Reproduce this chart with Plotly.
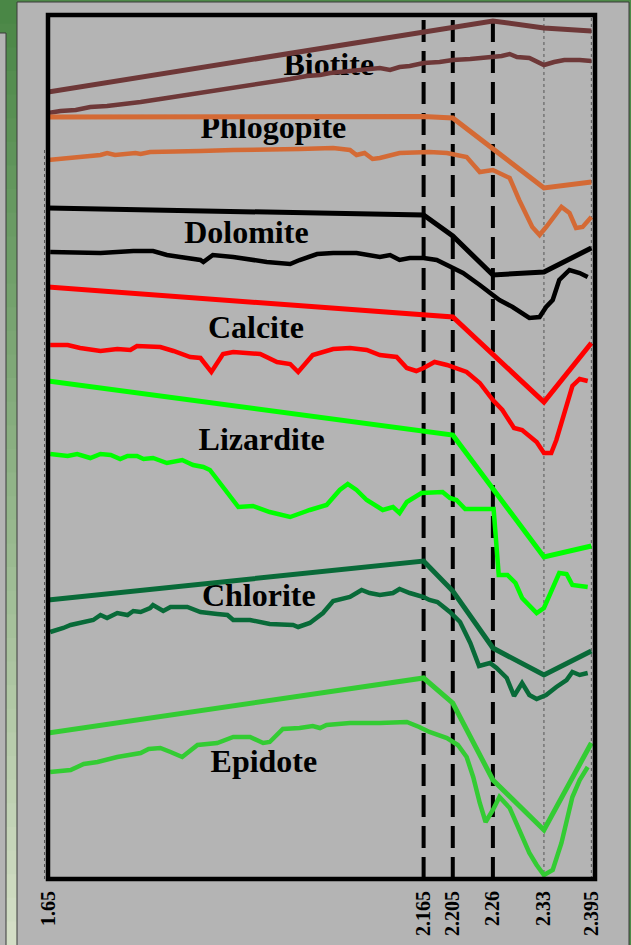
import plotly.graph_objects as go

# ---------------- data (wavelength in µm, offset reflectance in arbitrary units) ----------------
tick_vals = [1.65, 2.165, 2.205, 2.26, 2.33, 2.395]
tick_text = ["1.65", "2.165", "2.205", "2.26", "2.33", "2.395"]
dashed_lines = [2.165, 2.205, 2.26]
dotted_lines = [2.33, 2.395]

minerals = ["Biotite", "Phlogopite", "Dolomite", "Calcite", "Lizardite", "Chlorite", "Epidote"]
colors = ["#6e3838", "#d46a35", "#000000", "#ff0000", "#00ff00", "#086a38", "#33cc33"]
label_x = [2.035, 1.959, 1.922, 1.935, 1.943, 1.939, 1.946]
label_y = [812, 749, 644, 549, 437, 281, 115]

# library (continuum-like) spectra
biotite_lib_x = [1.65, 2.26, 2.33, 2.395]
biotite_lib_y = [787, 858, 851, 848]
phlogopite_lib_x = [1.65, 2.165, 2.205, 2.33, 2.395]
phlogopite_lib_y = [762, 762.5, 761, 691, 697]
dolomite_lib_x = [1.65, 2.165, 2.205, 2.26, 2.33, 2.395]
dolomite_lib_y = [671, 664, 643, 604, 607, 631]
calcite_lib_x = [1.65, 2.205, 2.33, 2.395]
calcite_lib_y = [592, 562, 477, 536]
lizardite_lib_x = [1.65, 2.205, 2.33, 2.395]
lizardite_lib_y = [498, 444, 322, 333]
chlorite_lib_x = [1.65, 2.165, 2.205, 2.26, 2.33, 2.395]
chlorite_lib_y = [279, 318, 288, 231, 204, 228]
epidote_lib_x = [1.65, 2.165, 2.205, 2.26, 2.33, 2.395]
epidote_lib_y = [146, 201, 176, 99, 49, 136]

# measured spectra
biotite_x = [1.650, 1.667, 1.688, 1.708, 1.731, 1.756, 1.777, 1.804, 1.822, 1.845, 1.868, 1.893,
             1.913, 1.938, 1.959, 1.982, 2.005, 2.023, 2.037, 2.050, 2.071, 2.095, 2.105, 2.119,
             2.132, 2.146, 2.165, 2.187, 2.205, 2.229, 2.260, 2.272, 2.283, 2.293, 2.310, 2.321,
             2.330, 2.344, 2.358, 2.379, 2.395]
biotite_y = [766, 768, 769, 772, 773, 775, 777, 780, 782, 784, 787, 790,
             792, 794, 797, 800, 803, 804, 806, 807, 809, 811, 811, 809,
             812, 813, 816, 817, 819, 820, 822, 823, 825, 822, 821, 817,
             814, 817, 819, 819, 818]

phlogopite_x = [1.650, 1.667, 1.694, 1.722, 1.731, 1.742, 1.770, 1.777, 1.790, 1.813, 1.859, 1.904,
                1.950, 1.995, 2.041, 2.064, 2.073, 2.084, 2.095, 2.105, 2.132, 2.173, 2.197, 2.224,
                2.242, 2.260, 2.283, 2.296, 2.314, 2.324, 2.333, 2.354, 2.365, 2.374, 2.383, 2.395]
phlogopite_y = [719, 720, 722, 724, 726, 724, 726, 725, 727, 727, 728, 729,
                729, 730, 731, 729, 724, 726, 720, 721, 726, 727, 726, 722,
                707, 709, 701, 679, 652, 644, 652, 672, 666, 651, 652, 662]

dolomite_x = [1.653, 1.677, 1.722, 1.767, 1.794, 1.813, 1.859, 1.863, 1.876, 1.904, 1.950, 1.982,
              1.995, 2.019, 2.041, 2.073, 2.105, 2.119, 2.132, 2.146, 2.165, 2.183, 2.201, 2.219,
              2.242, 2.260, 2.269, 2.287, 2.310, 2.324, 2.333, 2.342, 2.351, 2.365, 2.379, 2.390]
dolomite_y = [627, 627, 626, 628, 628, 624, 619, 617, 624, 622, 617, 615,
              619, 625, 626, 626, 622, 624, 619, 621, 621, 619, 612, 606,
              594, 584, 579, 572, 561, 562, 572, 579, 599, 609, 606, 602]

calcite_x = [1.653, 1.677, 1.694, 1.722, 1.745, 1.763, 1.772, 1.804, 1.822, 1.845, 1.859, 1.874,
             1.890, 1.904, 1.941, 1.964, 1.982, 1.993, 2.013, 2.041, 2.064, 2.087, 2.105, 2.128,
             2.142, 2.155, 2.165, 2.180, 2.197, 2.224, 2.242, 2.260, 2.273, 2.289, 2.300, 2.320,
             2.330, 2.340, 2.347, 2.361, 2.369, 2.379, 2.390]
calcite_y = [534, 534, 531, 528, 530, 529, 533, 532, 528, 522, 521, 507,
             525, 527, 525, 517, 515, 507, 524, 530, 531, 529, 524, 522,
             511, 508, 511, 517, 514, 507, 496, 479, 469, 451, 449, 437,
             426, 426, 439, 472, 493, 500, 498]

lizardite_x = [1.653, 1.677, 1.690, 1.708, 1.722, 1.736, 1.749, 1.759, 1.772, 1.781, 1.794, 1.813,
               1.834, 1.849, 1.863, 1.872, 1.911, 1.931, 1.954, 1.982, 2.009, 2.032, 2.050, 2.061,
               2.073, 2.087, 2.109, 2.123, 2.132, 2.142, 2.162, 2.177, 2.191, 2.201, 2.210, 2.222,
               2.261, 2.268, 2.280, 2.291, 2.300, 2.320, 2.330, 2.351, 2.361, 2.369, 2.390]
lizardite_y = [425, 423, 425, 421, 425, 424, 420, 423, 423, 420, 421, 416,
               419, 414, 412, 409, 372, 373, 367, 362, 369, 374, 389, 395,
               389, 379, 369, 372, 366, 377, 386, 387, 387, 381, 379, 370,
               370, 304, 304, 296, 281, 266, 271, 306, 305, 294, 292]

chlorite_x = [1.653, 1.663, 1.671, 1.681, 1.694, 1.712, 1.722, 1.731, 1.745, 1.759, 1.767, 1.777,
              1.790, 1.794, 1.808, 1.818, 1.841, 1.859, 1.882, 1.896, 1.904, 1.927, 1.954, 1.986,
              1.993, 2.009, 2.027, 2.041, 2.064, 2.080, 2.091, 2.105, 2.123, 2.132, 2.146, 2.165,
              2.173, 2.184, 2.201, 2.215, 2.229, 2.241, 2.256, 2.265, 2.279, 2.289, 2.300, 2.310,
              2.320, 2.333, 2.347, 2.361, 2.369, 2.379, 2.390]
chlorite_y = [247, 249, 251, 254, 256, 259, 264, 261, 266, 264, 268, 267,
              271, 274, 268, 272, 272, 267, 265, 264, 259, 259, 255, 254,
              252, 256, 266, 278, 282, 289, 286, 284, 286, 290, 286, 282,
              279, 277, 267, 257, 236, 213, 216, 211, 201, 183, 196, 184,
              180, 184, 192, 199, 207, 204, 206]

epidote_x = [1.653, 1.681, 1.699, 1.718, 1.745, 1.777, 1.788, 1.804, 1.818, 1.834, 1.855, 1.882,
             1.904, 1.927, 1.945, 1.954, 1.972, 1.995, 2.013, 2.023, 2.032, 2.064, 2.105, 2.142,
             2.159, 2.173, 2.197, 2.212, 2.224, 2.233, 2.242, 2.250, 2.260, 2.269, 2.283, 2.296,
             2.310, 2.320, 2.330, 2.342, 2.354, 2.369, 2.379, 2.390]
epidote_y = [107, 109, 115, 117, 122, 126, 130, 131, 127, 122, 134, 136,
             142, 142, 136, 137, 150, 151, 153, 151, 154, 156, 156, 157,
             152, 147, 141, 134, 122, 102, 76, 57, 69, 82, 71, 49,
             26, 14, 4, 9, 36, 82, 99, 112]

library = [(biotite_lib_x, biotite_lib_y), (phlogopite_lib_x, phlogopite_lib_y),
           (dolomite_lib_x, dolomite_lib_y), (calcite_lib_x, calcite_lib_y),
           (lizardite_lib_x, lizardite_lib_y), (chlorite_lib_x, chlorite_lib_y),
           (epidote_lib_x, epidote_lib_y)]
measured = [(biotite_x, biotite_y), (phlogopite_x, phlogopite_y), (dolomite_x, dolomite_y),
            (calcite_x, calcite_y), (lizardite_x, lizardite_y), (chlorite_x, chlorite_y),
            (epidote_x, epidote_y)]

# ---------------- figure ----------------
W, H = 631, 945
ML, MR, MT, MB = 48, 36, 15, 66
PW, PH = W - ML - MR, H - MT - MB


def px(xp):
    return (xp - ML) / PW


def py(yp):
    return (H - MB - yp) / PH


fig = go.Figure()

# labels first so that the spectra are drawn over them
fig.add_trace(go.Scatter(
    x=label_x, y=label_y, text=minerals, mode="text",
    textfont=dict(family="Liberation Serif", size=32, color="black", weight="bold"),
    textposition="middle center", hoverinfo="skip", cliponaxis=False, showlegend=False))

for (lx, ly), (mx, my), c, name in zip(library, measured, colors, minerals):
    fig.add_trace(go.Scatter(x=lx, y=ly, mode="lines", line=dict(color=c, width=5),
                             name=name + " (library)", showlegend=False, hoverinfo="skip"))
    fig.add_trace(go.Scatter(x=mx, y=my, mode="lines", line=dict(color=c, width=4.5),
                             name=name, showlegend=False, hoverinfo="skip"))

shapes = []
# outer decoration: green gradient strip on the left
n = 40
top_c = (74, 135, 70)
bot_c = (212, 222, 198)
for i in range(n):
    t = i / (n - 1)
    col = "rgb({},{},{})".format(*[round(a + (b - a) * t) for a, b in zip(top_c, bot_c)])
    y0 = i * H / n
    y1 = (i + 1) * H / n + 1
    shapes.append(dict(type="rect", xref="paper", yref="paper", layer="below",
                       x0=px(0), x1=px(17), y0=py(y1), y1=py(y0),
                       fillcolor=col, line=dict(width=0)))
# grey main panel
shapes.append(dict(type="rect", xref="paper", yref="paper", layer="below",
                   x0=px(17), x1=px(629), y0=py(H + 2), y1=py(2),
                   fillcolor="#b4b4b4", line=dict(color="#3a3a3a", width=1)))
# small grey panel at far left
shapes.append(dict(type="rect", xref="paper", yref="paper", layer="below",
                   x0=px(-3), x1=px(6), y0=py(H + 2), y1=py(33),
                   fillcolor="#b4b4b4", line=dict(color="#3a3a3a", width=1)))
# dotted y-axis line
shapes.append(dict(type="line", xref="paper", yref="paper", layer="below",
                   x0=px(44.5), x1=px(44.5), y0=py(879), y1=py(148),
                   line=dict(color="#555555", width=1, dash="dot")))

for xv in dotted_lines:
    shapes.append(dict(type="line", xref="x", yref="paper", layer="below",
                       x0=xv, x1=xv, y0=0, y1=1,
                       line=dict(color="#555555", width=1, dash="dot")))
for xv in dashed_lines:
    shapes.append(dict(type="line", xref="x", yref="paper", layer="below",
                       x0=xv, x1=xv, y0=0, y1=1,
                       line=dict(color="black", width=4, dash="22px,9px")))
# frame
shapes.append(dict(type="rect", xref="paper", yref="paper", layer="above",
                   x0=0, x1=1, y0=0, y1=1, line=dict(color="black", width=4.5)))

fig.update_layout(
    width=W, height=H,
    margin=dict(l=ML, r=MR, t=MT, b=MB, pad=0, autoexpand=False),
    paper_bgcolor="#4e8a48",
    plot_bgcolor="#b4b4b4",
    showlegend=False,
    shapes=shapes,
    xaxis=dict(range=[1.65, 2.40], tickmode="array", tickvals=tick_vals, ticktext=tick_text,
               tickangle=-90, showgrid=False, zeroline=False, showline=False, ticks="",
               ticklabelstandoff=7, automargin=False,
               tickfont=dict(family="Liberation Serif", size=20, color="black", weight="bold")),
    yaxis=dict(range=[0, PH], visible=False, showgrid=False, zeroline=False, automargin=False),
)

fig.write_html(
    "out.html",
    config={"displayModeBar": False},
    post_script="document.body.style.margin='0';document.body.style.padding='0';"
                "document.body.style.overflow='hidden';",
)
